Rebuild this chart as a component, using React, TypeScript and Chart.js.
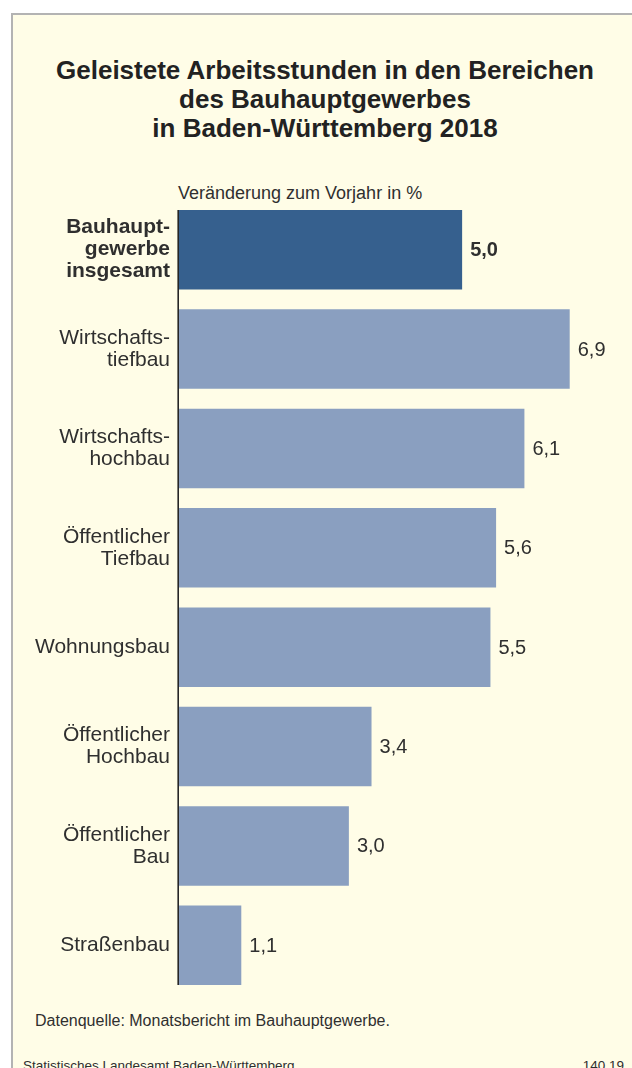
import React, { useEffect, useRef } from "react";
import { Chart, registerables } from "chart.js";

Chart.register(...registerables);

const categories: (string | string[])[] = [
  ["Bauhaupt-", "gewerbe", "insgesamt"],
  ["Wirtschafts-", "tiefbau"],
  ["Wirtschafts-", "hochbau"],
  ["Öffentlicher", "Tiefbau"],
  "Wohnungsbau",
  ["Öffentlicher", "Hochbau"],
  ["Öffentlicher", "Bau"],
  "Straßenbau",
];
const values: number[] = [5.0, 6.9, 6.1, 5.6, 5.5, 3.4, 3.0, 1.1];
const barColors: string[] = [
  "#36608e",
  "#8a9fc0",
  "#8a9fc0",
  "#8a9fc0",
  "#8a9fc0",
  "#8a9fc0",
  "#8a9fc0",
  "#8a9fc0",
];

const FONT = "'Liberation Sans', Arial, Helvetica, sans-serif";
const TEXT = "#2f2f2f";

const fmt = (v: number) => v.toFixed(1).replace(".", ",");

const valueLabels = {
  id: "valueLabels",
  afterDatasetsDraw(chart: any) {
    const ctx = chart.ctx;
    const meta = chart.getDatasetMeta(0);
    ctx.save();
    ctx.textAlign = "left";
    ctx.textBaseline = "middle";
    ctx.fillStyle = TEXT;
    meta.data.forEach((el: any, i: number) => {
      ctx.font = `${i === 0 ? "bold " : ""}20px ${FONT}`;
      ctx.fillText(fmt(values[i]), el.x + 8, el.y + 1);
    });
    // axis line spanning the bars
    const first = meta.data[0];
    const last = meta.data[meta.data.length - 1];
    const x = chart.chartArea.left - 0.8;
    ctx.strokeStyle = "#262626";
    ctx.lineWidth = 1.6;
    ctx.beginPath();
    ctx.moveTo(x, first.y - first.height / 2);
    ctx.lineTo(x, last.y + last.height / 2);
    ctx.stroke();
    ctx.restore();
  },
};

function BarChart() {
  const ref = useRef<HTMLCanvasElement | null>(null);
  useEffect(() => {
    if (!ref.current) return;
    const chart = new Chart(ref.current, {
      type: "bar",
      data: {
        labels: categories as any,
        datasets: [
          {
            data: values,
            backgroundColor: barColors,
            borderWidth: 0,
            barPercentage: 0.8,
            categoryPercentage: 1.0,
          },
        ],
      },
      options: {
        indexAxis: "y",
        responsive: false,
        animation: false,
        layout: { padding: 0 },
        plugins: {
          legend: { display: false },
          tooltip: { enabled: false },
          title: { display: false },
        },
        scales: {
          x: { display: false, min: 0, max: 8 },
          y: {
            grid: { display: false, drawTicks: false },
            border: { display: false },
            ticks: {
              padding: 9,
              color: TEXT,
              font: (c: any) => ({
                family: FONT,
                size: 21,
                weight: c.index === 0 ? "bold" : "normal",
                lineHeight: "22px",
              }),
            },
            afterFit: (scale: any) => {
              scale.width = 179;
              scale.paddingTop = 0;
              scale.paddingBottom = 0;
            },
          },
        },
      },
      plugins: [valueLabels],
    });
    return () => chart.destroy();
  }, []);
  return (
    <canvas
      ref={ref}
      width={632}
      height={795}
      style={{ position: "absolute", left: 0, top: 200, width: 632, height: 795 }}
    />
  );
}

export default function App() {
  return (
    <div
      style={{
        position: "fixed",
        left: 0,
        top: 0,
        width: 632,
        height: 1068,
        overflow: "hidden",
        background: "#ffffff",
        fontFamily: FONT,
      }}
    >
      <div
        style={{
          position: "absolute",
          left: 11,
          top: 13,
          width: 700,
          height: 1200,
          borderLeft: "2px solid #b3b3b3",
          borderTop: "2px solid #b3b3b3",
          background: "#fffde7",
        }}
      />
      <div
        style={{
          position: "absolute",
          left: 12,
          width: 626,
          top: 56,
          textAlign: "center",
          fontWeight: "bold",
          fontSize: 26,
          lineHeight: "29px",
          color: "#222222",
        }}
      >
        Geleistete Arbeitsstunden in den Bereichen
        <br />
        des Bauhauptgewerbes
        <br />
        in Baden-Württemberg 2018
      </div>
      <div
        style={{
          position: "absolute",
          left: 178,
          top: 183.8,
          fontSize: 18,
          lineHeight: "18px",
          color: TEXT,
          whiteSpace: "nowrap",
        }}
      >
        Veränderung zum Vorjahr in %
      </div>
      <BarChart />
      <div
        style={{
          position: "absolute",
          left: 35,
          top: 1012.5,
          fontSize: 16,
          lineHeight: "16px",
          color: TEXT,
          whiteSpace: "nowrap",
        }}
      >
        Datenquelle: Monatsbericht im Bauhauptgewerbe.
      </div>
      <div
        style={{
          position: "absolute",
          left: 23,
          top: 1058.5,
          fontSize: 13.5,
          lineHeight: "13.5px",
          color: TEXT,
          whiteSpace: "nowrap",
        }}
      >
        Statistisches Landesamt Baden-Württemberg
      </div>
      <div
        style={{
          position: "absolute",
          right: 8,
          top: 1058.5,
          fontSize: 13.5,
          lineHeight: "13.5px",
          color: TEXT,
          whiteSpace: "nowrap",
        }}
      >
        140 19
      </div>
    </div>
  );
}
